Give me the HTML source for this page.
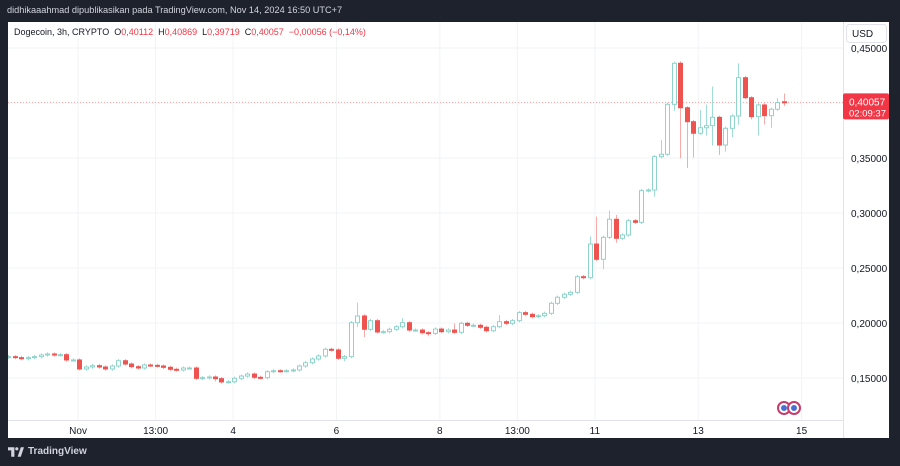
<!DOCTYPE html>
<html><head><meta charset="utf-8">
<style>
html,body{margin:0;padding:0;background:#1e222d;width:900px;height:466px;overflow:hidden;font-family:"Liberation Sans",sans-serif}
#top{position:absolute;left:7px;top:5px;color:#d1d4dc;font-size:9.2px}
#chart{position:absolute;left:8px;top:22px;width:881px;height:416px;background:#fff}
#foot{position:absolute;left:8px;top:446px;color:#d1d4dc;font-size:10px;display:flex;align-items:center;gap:4px}
</style></head><body>
<div id="top">didhikaaahmad dipublikasikan pada TradingView.com, Nov 14, 2024 16:50 UTC+7</div>
<div id="chart">
<svg id="svg" width="881" height="416" style="position:absolute;left:0;top:0"></svg>
</div>
<div id="foot">
<svg width="16" height="10" viewBox="0 0 20 12"><path d="M0 0h8v12H4V4H0z" fill="#d1d4dc"/><path d="M12 12L16 0h4l-4 12z" fill="#d1d4dc"/><circle cx="11" cy="2" r="2" fill="#d1d4dc"/></svg>
<span style="font-weight:bold">TradingView</span></div>
<script>
const closes = [
0.1694,0.1685,0.1675,0.1685,0.1694,0.1709,0.1718,0.1709,0.1712,0.1664,
0.1664,0.1582,0.1600,0.1612,0.1600,0.1582,0.1609,0.1657,0.1627,0.1603,
0.1591,0.1618,0.1615,0.1609,0.1597,0.1579,0.1573,0.1591,0.1591,0.1497,
0.1503,0.1509,0.1494,0.1464,0.1466,0.1497,0.1518,0.1536,0.1506,0.1503,
0.1557,0.1566,0.1564,0.1566,0.1573,0.1609,0.1639,0.1673,0.1700,0.1761,
0.1755,0.1679,0.1694,0.2003,0.2064,0.1943,0.2021,0.1918,0.1921,0.1943,
0.1966,0.2003,0.1936,0.1936,0.1912,0.1906,0.1945,0.1921,0.1936,0.1915,
0.1997,0.1979,0.1979,0.1961,0.1930,0.1966,0.2012,0.1997,0.2021,0.2094,
0.2079,0.2057,0.2066,0.2088,0.2179,0.2234,0.2261,0.2279,0.2421,0.2412,
0.2718,0.2579,0.2779,0.2943,0.2770,0.2800,0.2930,0.2915,0.3203,0.3209,
0.3512,0.3534,0.3988,0.4361,0.3957,0.3830,0.3725,0.3775,0.3794,0.3870,
0.3618,0.3770,0.3882,0.4230,0.4048,0.3876,0.3982,0.3885,0.3943,0.4003,
0.40057];
const firstOpen = 0.1690;
const lastOpen = 0.40112;
const upWick = [
.0015,.0015,.0015,.0015,.0015,.0015,.0015,.0015,.0015,.0015,
.0015,.0015,.0015,.0015,.0015,.0015,.0015,.0015,.0015,.0015,
.0015,.0015,.0015,.0015,.0015,.0015,.0015,.0015,.0015,.0015,
.0015,.0015,.0015,.0015,.0015,.0015,.0015,.0015,.0015,.0015,
.0015,.0015,.0015,.0015,.0015,.0015,.0015,.0015,.0015,.0015,
.0015,.0015,.0015,.0015,.012,.0015,.0015,.0015,.0015,.0015,
.0015,.004,.0015,.0015,.0015,.0015,.0015,.0015,.0015,.006,
.0015,.0015,.0015,.0015,.0015,.0015,.006,.0015,.0015,.0015,
.0015,.0015,.0015,.0015,.0015,.0015,.0015,.0015,.0015,.0015,
.007,.025,.0015,.008,.004,.0015,.0015,.0015,.0015,.0015,
.0015,.013,.0015,.0015,.002,.0015,.0015,.016,.019,.028,
.0015,.0015,.0015,.013,.0015,.0015,.0015,.0015,.0015,.004,
.0075];
const downWick = [
.0015,.0015,.0015,.0015,.0015,.0015,.0015,.0015,.0015,.0015,
.0015,.0015,.0015,.0015,.0015,.0015,.0015,.0015,.0015,.0015,
.0015,.0015,.0015,.0015,.0015,.0015,.0015,.0015,.0015,.0015,
.0015,.0015,.0025,.0015,.0015,.0015,.0015,.0015,.0015,.0015,
.0015,.0015,.0015,.0015,.0015,.0015,.0015,.0015,.0015,.0015,
.0015,.0015,.0025,.0015,.004,.007,.0015,.0015,.0015,.0015,
.0015,.0015,.0015,.0015,.0015,.0025,.0015,.0015,.0015,.0015,
.0015,.0015,.0015,.0015,.0015,.0015,.0015,.0015,.0015,.0015,
.0015,.0015,.0015,.0015,.0015,.0015,.0015,.0015,.0015,.0015,
.0015,.0015,.009,.0015,.004,.0015,.0015,.0015,.0015,.0015,
.006,.0015,.0015,.006,.046,.042,.022,.0015,.007,.018,
.009,.006,.008,.008,.0015,.0025,.017,.008,.011,.0015,
.0034];
const priceTicks = [0.15,0.20,0.25,0.30,0.35,0.40,0.45];
const priceTickLabels = ["0,15000","0,20000","0,25000","0,30000","0,35000","0,40000","0,45000"];
const timeLabels = ["Nov","13:00","4","6","8","13:00","11","13","15"];
const timeIdx = [10.8,22.8,34.8,50.8,66.8,78.8,90.8,106.8,122.8];
const lastPrice = 0.40057;

const NS="http://www.w3.org/2000/svg";
const svg=document.getElementById('svg');
const plotR=835;
const y=p=>26+(0.45-p)*1100;
const x=i=>0.3+i*6.46;
function mk(t,a){const e=document.createElementNS(NS,t);for(const k in a)e.setAttribute(k,a[k]);svg.appendChild(e);return e;}
timeIdx.forEach((ti,k)=>{const l=mk('line',{x1:x(ti),x2:x(ti),y1:0,y2:398,stroke:'#f2f3f5','stroke-width':1});


const t=mk('text',{x:x(ti),y:412,'text-anchor':'middle','font-size':10,fill:'#131722'});t.textContent=timeLabels[k];

});
priceTicks.forEach((p,k)=>{const l=mk('line',{x1:0,x2:plotR,y1:y(p),y2:y(p),stroke:'#f2f3f5','stroke-width':1});


const t=mk('text',{x:843,y:y(p)+4,'font-size':10,fill:'#131722'});t.textContent=priceTickLabels[k];

});
const ax1=mk('line',{x1:0,x2:plotR,y1:398.5,y2:398.5,stroke:'#e0e3eb'});


const ax2=mk('line',{x1:plotR+.5,x2:plotR+.5,y1:0,y2:416,stroke:'#e0e3eb'});


const lp=mk('line',{x1:0,x2:plotR,y1:y(lastPrice),y2:y(lastPrice),stroke:'#f7a6a6','stroke-dasharray':'1 2'});


closes.forEach((c,i)=>{
 const o=i===0?firstOpen:(i===closes.length-1?lastOpen:closes[i-1]);
 const up=c>=o;
 const hi=Math.max(o,c)+upWick[i], lo=Math.min(o,c)-downWick[i];
 const cx=Math.round(x(i))+0.5;
 const w=mk('line',{x1:cx,x2:cx,y1:y(hi),y2:y(lo),stroke:up?'#9fdcd4':'#f8a9a8','stroke-width':1});
 
 
 const top=y(Math.max(o,c)), h=Math.max(1,y(Math.min(o,c))-top);
 const b=mk('rect',{x:cx-2,y:top,width:4,height:h,fill:up?'#ffffff':'#ef5350',stroke:up?'#8ed4cb':'#ef5350','stroke-width':1});
 
 
});
const hd=mk('text',{x:6,y:13,'font-size':9,fill:'#131722',style:'white-space:pre'});


hd.innerHTML='Dogecoin, 3h, CRYPTO  O<tspan fill="#f23645">0,40112</tspan>  H<tspan fill="#f23645">0,40869</tspan>  L<tspan fill="#f23645">0,39719</tspan>  C<tspan fill="#f23645">0,40057</tspan>  <tspan fill="#f23645">−0,00056 (−0,14%)</tspan>';
const ub=mk('rect',{x:838.5,y:2.5,width:40,height:18,rx:3,fill:'#fff',stroke:'#e0e3eb'});


const ut=mk('text',{x:844,y:15,'font-size':10,fill:'#131722'});ut.textContent='USD';


const pr=mk('rect',{x:835,y:y(lastPrice)-9,width:46,height:26,rx:2,fill:'#f23645'});


const p1=mk('text',{x:841,y:y(lastPrice)+3,'font-size':10,fill:'#fff'});p1.textContent='0,40057';


const p2=mk('text',{x:841,y:y(lastPrice)+14,'font-size':9.5,fill:'#fff'});p2.textContent='02:09:37';


[0,10].forEach(dx=>{const c=mk('circle',{cx:776+dx,cy:386,r:6,fill:'#fff',stroke:'#c53b6b','stroke-width':2});


const c2=mk('circle',{cx:776+dx,cy:386,r:3,fill:'#4a6fd1'});

});
</script>
</body></html>
